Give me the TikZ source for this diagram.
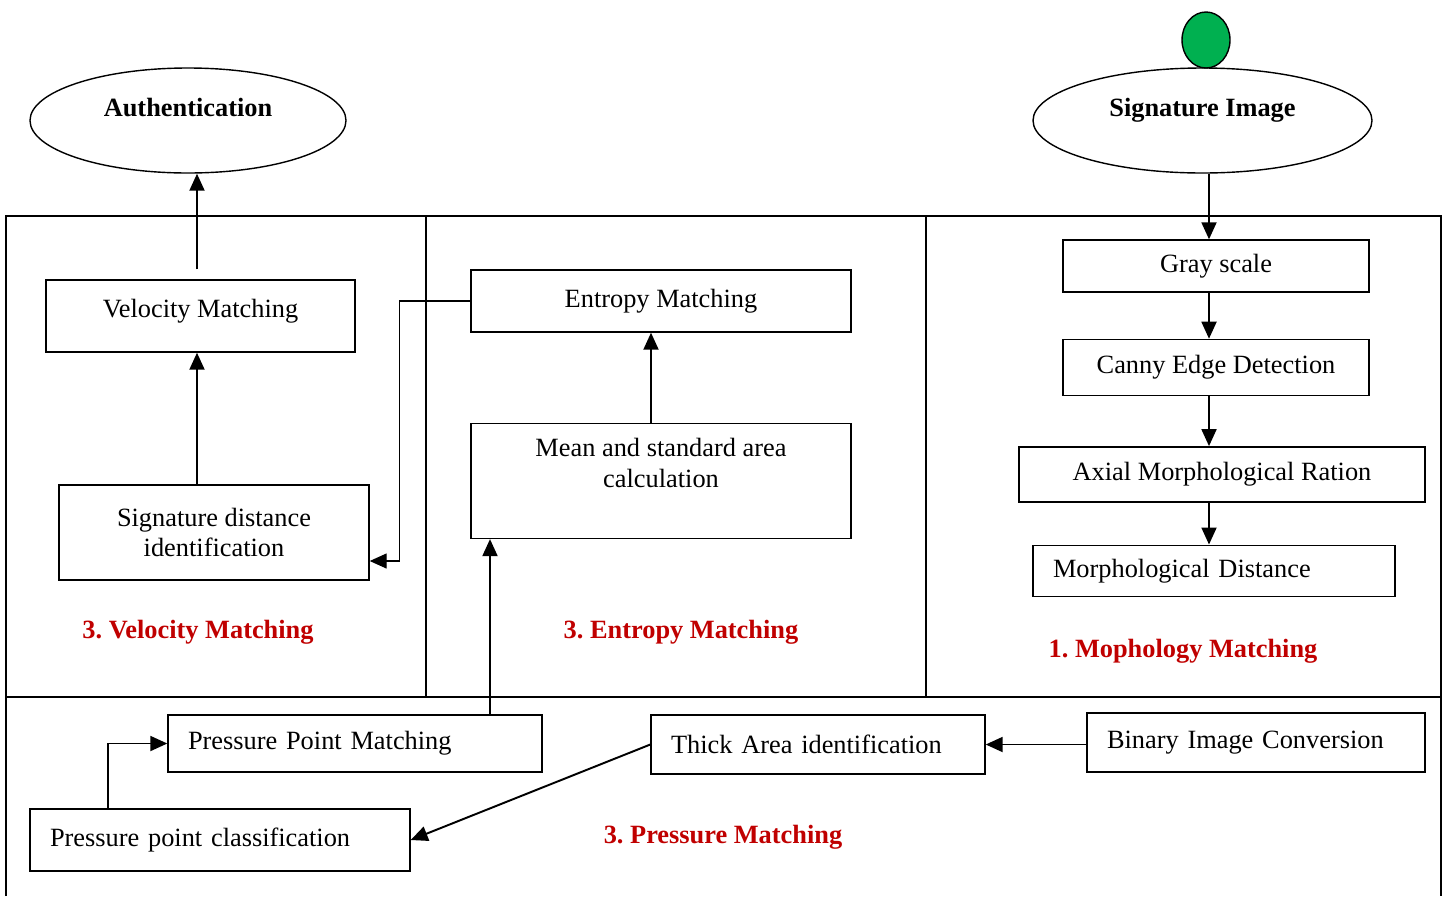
\documentclass[tikz,border=0pt]{standalone}
\usepackage{fontspec}
\setmainfont{Liberation Serif}
\usetikzlibrary{positioning, arrows.meta, shapes.geometric}
\definecolor{labred}{RGB}{192,0,0}
\definecolor{startgreen}{RGB}{0,176,80}
\frenchspacing

\begin{document}
\begin{tikzpicture}[
        font=\fontsize{15}{17.5}\selectfont,
        procbox/.style={rectangle, draw=black, line width=0.8pt, align=center, inner sep=0.1cm},
        leftbox/.style={procbox, align=left, inner xsep=0.4cm},
        ovalbox/.style={ellipse, draw=black, line width=0.8pt, minimum height=2.10cm, font=\fontsize{15}{17.5}\selectfont\bfseries, text height=0.37cm, text depth=0.52cm},
        startdot/.style={ellipse, draw=black, line width=0.8pt, fill=startgreen, minimum width=0.96cm, minimum height=1.12cm, inner sep=0pt},
        redlabel/.style={text=labred, font=\fontsize{15}{17.5}\selectfont\bfseries},
        frameline/.style={line width=0.8pt},
        arr/.style={-{Triangle[length=0.34cm, width=0.30cm]}, line width=1.1pt},
    ]
        \useasboundingbox (0,0) rectangle (28.96,-17.92);

        % Panels
        \draw[frameline] (0.12,-17.92) -- (0.12,-4.32) -- (28.82,-4.32) -- (28.82,-17.92);
        \draw[frameline] (0.12,-13.94) -- (28.82,-13.94);
        \draw[frameline] (8.52,-4.32) -- (8.52,-13.94);
        \draw[frameline] (18.52,-4.32) -- (18.52,-13.94);

        % Start and end
        \node[ovalbox, minimum width=6.78cm] (sigimg) at (24.05,-2.41) {Signature Image};
        \node[startdot] (start) at (24.12,-0.80) {};
        \node[ovalbox, minimum width=6.32cm] (auth) at (3.76,-2.41) {Authentication};

        % Morphology panel
        \node[procbox, minimum width=6.12cm, minimum height=1.04cm] (gray) at (24.32,-5.32) {Gray scale};
        \node[procbox, minimum width=6.12cm, minimum height=1.12cm, below=0.92cm of gray] (canny) {Canny Edge Detection};
        \node[procbox, minimum width=8.12cm, minimum height=1.10cm, below=1.00cm of canny, xshift=0.12cm] (axial) {Axial Morphological Ration};
        \node[leftbox, text width=6.44cm, minimum height=1.02cm, below=0.84cm of axial, xshift=-0.16cm] (morph) {Morphological Distance};

        % Entropy panel
        \node[procbox, minimum width=7.60cm, minimum height=1.24cm] (entropy) at (13.22,-6.02) {Entropy Matching};
        \node[procbox, minimum width=7.60cm, minimum height=2.30cm, below=1.80cm of entropy, text depth=0.71cm] (mean) {Mean and standard area\\calculation};

        % Velocity panel
        \node[procbox, minimum width=6.18cm, minimum height=1.44cm, text depth=0.3cm] (velo) at (4.01,-6.32) {Velocity Matching};
        \node[procbox, minimum width=6.20cm, minimum height=1.90cm] (sigdist) at (4.28,-10.65) {Signature distance\\identification};

        % Pressure panel
        \node[leftbox, text width=5.96cm, minimum height=1.18cm] (binary) at (25.12,-14.85) {Binary Image Conversion};
        \node[leftbox, text width=5.88cm, minimum height=1.18cm] (thick) at (16.36,-14.89) {Thick Area identification};
        \node[leftbox, text width=6.68cm, minimum height=1.14cm] (ppm) at (7.10,-14.87) {Pressure Point Matching};
        \node[leftbox, text width=6.80cm, minimum height=1.24cm] (ppc) at (4.40,-16.80) {Pressure point classification};

        % Panel titles
        \node[redlabel] (velotitle) at (3.96,-12.64) {3. Velocity Matching};
        \node[redlabel] (entrtitle) at (13.62,-12.64) {3. Entropy Matching};
        \node[redlabel] (morphtitle) at (23.66,-13.02) {1. Mophology Matching};
        \node[redlabel] (presstitle) at (14.46,-16.74) {3. Pressure Matching};

        % Arrows: morphology chain
        \coordinate (spine) at (24.18,0);
        \draw[arr] (spine |- sigimg.south) -- (spine |- gray.north);
        \draw[arr] (spine |- gray.south) -- (spine |- canny.north);
        \draw[arr] (spine |- canny.south) -- (spine |- axial.north);
        \draw[arr] (spine |- axial.south) -- (spine |- morph.north);

        % Arrows: pressure chain
        \draw[arr] (thick.east -| binary.west) -- (thick.east);
        \draw[arr] (thick.west) -- (ppc.east);
        \draw[arr] ([xshift=-2.24cm]ppc.north) |- (ppm.west);
        \draw[arr] ([xshift=2.70cm]ppm.north) -- ([xshift=2.70cm]ppm.north |- mean.south);

        % Arrows: entropy and velocity
        \draw[arr] ([xshift=-0.2cm]mean.north) -- ([xshift=-0.2cm]entropy.south);
        \draw[arr, line width=0.8pt] (entropy.west) -- ++(-1.42,0) |- ([yshift=-0.57cm]sigdist.east);
        \coordinate (vcol) at (3.94,0);
        \draw[arr] (vcol |- sigdist.north) -- (vcol |- velo.south);
        \draw[arr, shorten <=0.2cm] (vcol |- velo.north) -- (vcol |- auth.south);
    \end{tikzpicture}
\end{document}
